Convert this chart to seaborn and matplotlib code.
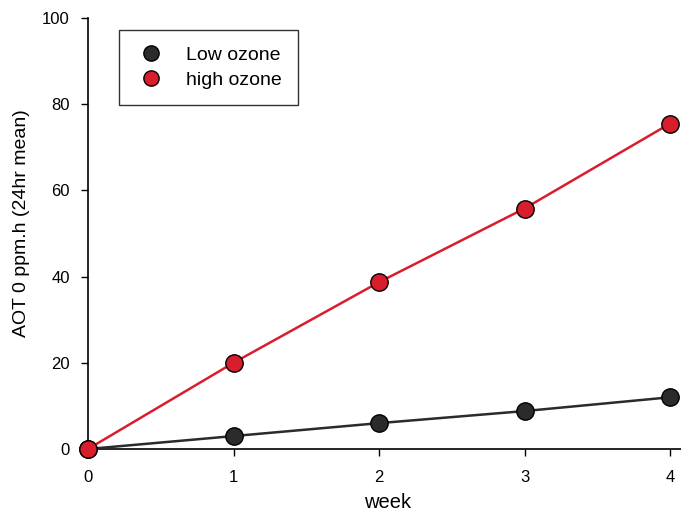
import matplotlib
matplotlib.use("Agg")
import matplotlib.pyplot as plt
import seaborn as sns
import pandas as pd
from matplotlib.lines import Line2D

weeks = [0, 1, 2, 3, 4]
low_ozone = [0.0, 3.0, 6.0, 8.8, 12.0]
high_ozone = [0.0, 20.0, 38.7, 55.8, 75.5]
series_names = ["Low ozone", "high ozone"]
colors = ["#2b2b2b", "#d81e2c"]

df = pd.DataFrame({
    "week": weeks * 2,
    "value": low_ozone + high_ozone,
    "series": [series_names[0]] * len(weeks) + [series_names[1]] * len(weeks),
})

sns.set_style("white")
plt.rcParams["font.family"] = ["Liberation Sans", "DejaVu Sans"]
plt.rcParams["text.color"] = "black"
plt.rcParams["axes.labelcolor"] = "black"

fig = plt.figure(figsize=(6.81, 5.12), dpi=100)
ax = fig.add_axes([88 / 681, 63 / 512, 1 - 88 / 681, (449 - 18) / 512])

sns.lineplot(data=df, x="week", y="value", hue="series", palette=colors,
             marker="o", markersize=12.5, markeredgecolor="black",
             markeredgewidth=1.0, linewidth=1.8, ax=ax, legend=False,
             clip_on=False, zorder=3)

ax.set_xlim(0, (681 - 88) / 145.5)
ax.set_ylim(0, 100)
ax.set_xticks([0, 1, 2, 3, 4])
ax.set_yticks([0, 20, 40, 60, 80, 100])
ax.tick_params(axis="both", direction="out", length=5, width=1, labelsize=12,
               colors="black", bottom=True, left=True)
ax.tick_params(axis="x", pad=10)
ax.tick_params(axis="y", pad=8)
for s in ["top", "right"]:
    ax.spines[s].set_visible(False)
for s in ["left", "bottom"]:
    ax.spines[s].set_color("black")
    ax.spines[s].set_linewidth(1.2)

ax.set_xlabel("week", fontsize=14.5)
ax.xaxis.set_label_coords(0.505, -44 / 431)
ax.set_ylabel("AOT 0 ppm.h (24hr mean)", fontsize=14)
ax.yaxis.set_label_coords(-58 / 593, 0.524)

handles = [Line2D([], [], linestyle="none", marker="o", markersize=11,
                  markerfacecolor=c, markeredgecolor="black", markeredgewidth=1.0)
           for c in colors]
leg = ax.legend(handles, series_names, loc="upper left",
                bbox_to_anchor=((119 - 88) / 593, 1 - (30 - 18) / 431),
                frameon=True, fancybox=False, edgecolor="black", fontsize=14,
                borderpad=0.82, handlelength=1.7, handletextpad=0.95,
                labelspacing=0.4, borderaxespad=0)
leg.get_frame().set_linewidth(1.0)

fig.savefig("out.png", dpi=100)
